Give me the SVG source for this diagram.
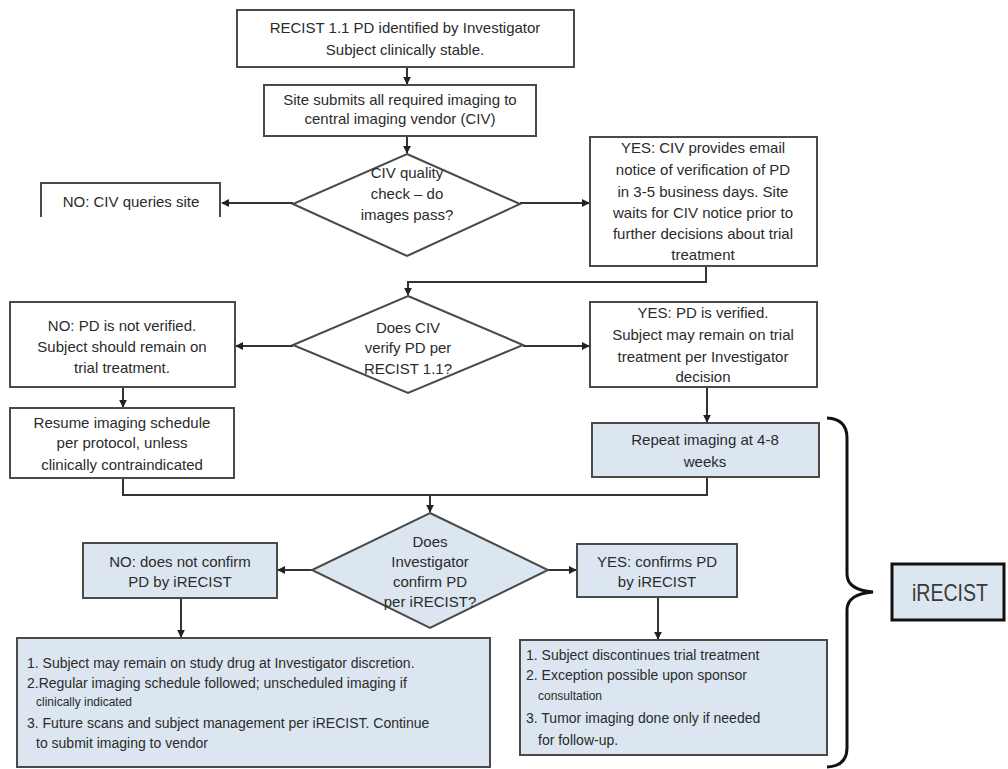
<svg xmlns="http://www.w3.org/2000/svg" width="1008" height="769" viewBox="0 0 1008 769">
<defs>
<style>
.box{fill:#ffffff;stroke:#4a4a4a;stroke-width:2}
.blue{fill:#dbe6f0;stroke:#4a4a4a;stroke-width:2}
.t{font-family:"Liberation Sans",Arial,sans-serif;font-size:15px;fill:#2b2b2b;text-anchor:middle}
.tl{font-family:"Liberation Sans",Arial,sans-serif;font-size:14px;fill:#2b2b2b;text-anchor:start}
.sm{font-size:12px}
.c{fill:none;stroke:#333333;stroke-width:2}
</style>
<marker id="ah" viewBox="0 0 10 10" refX="9" refY="5" markerWidth="4" markerHeight="4" orient="auto-start-reverse">
<path d="M0,0 L10,5 L0,10 z" fill="#222222"/>
</marker>
</defs>
<rect width="1008" height="769" fill="#ffffff"/>

<g id="connectors">
<path class="c" d="M407,67 V84" marker-end="url(#ah)"/>
<path class="c" d="M407,136 V153" marker-end="url(#ah)"/>
<path class="c" d="M293,203 H222" marker-end="url(#ah)"/>
<path class="c" d="M520,203 H589" marker-end="url(#ah)"/>
<path class="c" d="M706,266 V282 H408 V295" marker-end="url(#ah)"/>
<path class="c" d="M293,346 H236" marker-end="url(#ah)"/>
<path class="c" d="M523,346 H589" marker-end="url(#ah)"/>
<path class="c" d="M123,387 V407" marker-end="url(#ah)"/>
<path class="c" d="M707,387 V422" marker-end="url(#ah)"/>
<path class="c" d="M123,478 V495 H707 V477"/>
<path class="c" d="M430,495 V512" marker-end="url(#ah)"/>
<path class="c" d="M312,570 H278" marker-end="url(#ah)"/>
<path class="c" d="M548,570 H576" marker-end="url(#ah)"/>
<path class="c" d="M181,598 V637" marker-end="url(#ah)"/>
<path class="c" d="M658,597 V639" marker-end="url(#ah)"/>
</g>

<g id="n-start">
<rect class="box" x="237" y="10" width="337" height="57"/>
<text class="t" x="405" y="33">RECIST 1.1 PD identified by Investigator</text>
<text class="t" x="405" y="55">Subject clinically stable.</text>
</g>

<g id="n-submit">
<rect class="box" x="264" y="85" width="272" height="51"/>
<text class="t" x="400" y="105">Site submits all required imaging to</text>
<text class="t" x="400" y="124">central imaging vendor (CIV)</text>
</g>

<g id="n-qc">
<polygon class="box" points="407,154 520,204 407,256 293,204"/>
<text class="t" x="407" y="178">CIV quality</text>
<text class="t" x="407" y="199">check – do</text>
<text class="t" x="407" y="220">images pass?</text>
</g>

<g id="n-queries">
<path class="box" d="M41,217 V183 H220 V217" fill="none"/>
<text class="t" x="131" y="207">NO: CIV queries site</text>
</g>

<g id="n-civnotice">
<rect class="box" x="590" y="137" width="227" height="129"/>
<text class="t" x="703" y="153">YES: CIV provides email</text>
<text class="t" x="703" y="175">notice of verification of PD</text>
<text class="t" x="703" y="197">in 3-5 business days. Site</text>
<text class="t" x="703" y="218">waits for CIV notice prior to</text>
<text class="t" x="703" y="239">further decisions about trial</text>
<text class="t" x="703" y="260">treatment</text>
</g>

<g id="n-verify">
<polygon class="box" points="408,296 523,345 408,393 293,345"/>
<text class="t" x="408" y="333">Does CIV</text>
<text class="t" x="408" y="353">verify PD per</text>
<text class="t" x="408" y="374">RECIST 1.1?</text>
</g>

<g id="n-notverified">
<rect class="box" x="10" y="302" width="225" height="85"/>
<text class="t" x="122" y="331">NO: PD is not verified.</text>
<text class="t" x="122" y="352">Subject should remain on</text>
<text class="t" x="122" y="373">trial treatment.</text>
</g>

<g id="n-verified">
<rect class="box" x="590" y="302" width="227" height="85"/>
<text class="t" x="703" y="318">YES: PD is verified.</text>
<text class="t" x="703" y="340">Subject may remain on trial</text>
<text class="t" x="703" y="362">treatment per Investigator</text>
<text class="t" x="703" y="382">decision</text>
</g>

<g id="n-resume">
<rect class="box" x="10" y="408" width="224" height="70"/>
<text class="t" x="122" y="428">Resume imaging schedule</text>
<text class="t" x="122" y="448">per protocol, unless</text>
<text class="t" x="122" y="470">clinically contraindicated</text>
</g>

<g id="n-repeat">
<rect class="blue" x="592" y="423" width="227" height="54"/>
<text class="t" x="705" y="445">Repeat imaging at 4-8</text>
<text class="t" x="705" y="467">weeks</text>
</g>

<g id="n-confirm">
<polygon class="blue" points="430,513 548,570 430,628 312,570"/>
<text class="t" x="430" y="547">Does</text>
<text class="t" x="430" y="567">Investigator</text>
<text class="t" x="430" y="587">confirm PD</text>
<text class="t" x="430" y="607">per iRECIST?</text>
</g>

<g id="n-noconfirm">
<rect class="blue" x="83" y="543" width="194" height="55"/>
<text class="t" x="180" y="567">NO: does not confirm</text>
<text class="t" x="180" y="587">PD by iRECIST</text>
</g>

<g id="n-yesconfirm">
<rect class="blue" x="577" y="544" width="160" height="53"/>
<text class="t" x="657" y="567">YES: confirms PD</text>
<text class="t" x="657" y="587">by iRECIST</text>
</g>

<g id="n-continue">
<rect class="blue" x="17" y="638" width="473" height="129"/>
<text class="tl" x="27" y="668">1. Subject may remain on study drug at Investigator discretion.</text>
<text class="tl" x="27" y="688">2.Regular imaging schedule followed; unscheduled imaging if</text>
<text class="tl sm" x="36" y="706">clinically indicated</text>
<text class="tl" x="27" y="728">3. Future scans and subject management per iRECIST. Continue</text>
<text class="tl" x="36" y="748">to submit imaging to vendor</text>
</g>

<g id="n-discontinue">
<rect class="blue" x="520" y="640" width="307" height="115"/>
<text class="tl" x="526" y="660">1. Subject discontinues trial treatment</text>
<text class="tl" x="526" y="680">2. Exception possible upon sponsor</text>
<text class="tl sm" x="538" y="700">consultation</text>
<text class="tl" x="526" y="723">3. Tumor imaging done only if needed</text>
<text class="tl" x="538" y="745">for follow-up.</text>
</g>

<g id="brace">
<path d="M827,418 Q847,419 847,438 V574 Q847,590 873,592 Q847,594 847,610 V748 Q847,766 827,767" fill="none" stroke="#111111" stroke-width="3"/>
</g>

<g id="n-irecist">
<rect x="892" y="564" width="112" height="56" fill="#dbe6f0" stroke="#111111" stroke-width="3"/>
<text x="950" y="601" textLength="76" lengthAdjust="spacingAndGlyphs" style="font-family:'Liberation Sans',Arial,sans-serif;font-size:24px;fill:#3a3a3a;text-anchor:middle">iRECIST</text>
</g>
</svg>
